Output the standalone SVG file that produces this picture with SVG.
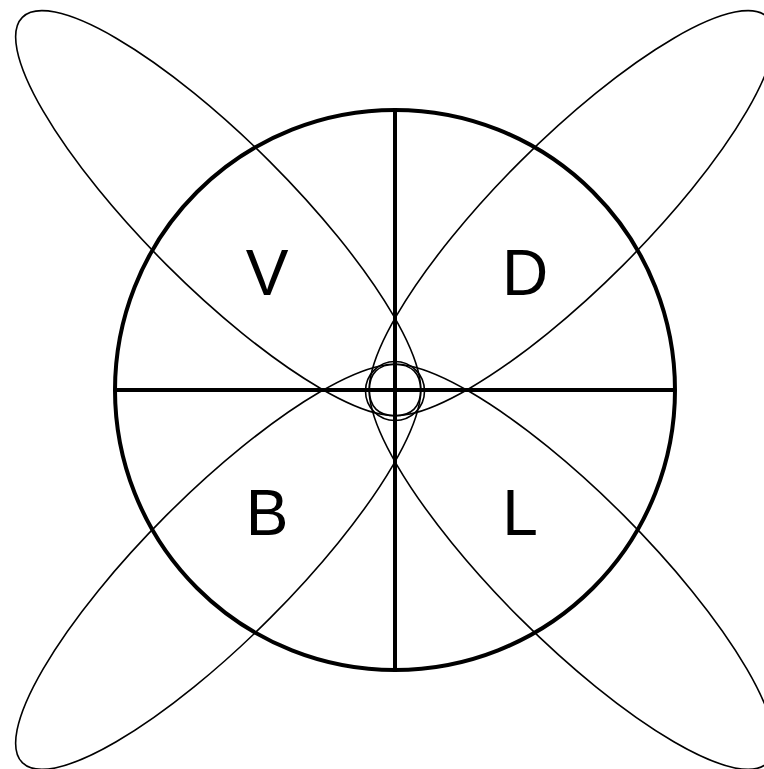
<svg xmlns="http://www.w3.org/2000/svg" width="764" height="769" viewBox="0 0 764 769">
<style>
.ell{fill:none;stroke:#000;stroke-width:1.6}
.thick{fill:none;stroke:#000;stroke-width:4}
.lbl{font-family:"Liberation Sans",Arial,sans-serif;font-size:64px;fill:#000;text-anchor:middle}
</style>
<rect width="764" height="769" fill="#fff"/>
<g id="lobes">
<ellipse id="lobe-tl" class="ell" cx="0" cy="0" rx="277" ry="73" transform="translate(218.2,213.2) rotate(45)"/>
<ellipse id="lobe-br" class="ell" cx="0" cy="0" rx="277" ry="73" transform="translate(571.8,566.8) rotate(45)"/>
<ellipse id="lobe-tr" class="ell" cx="0" cy="0" rx="277" ry="73" transform="translate(571.8,213.2) rotate(-45)"/>
<ellipse id="lobe-bl" class="ell" cx="0" cy="0" rx="277" ry="73" transform="translate(218.2,566.8) rotate(-45)"/>
</g>
<g id="outer-circle">
<circle class="thick" cx="395" cy="390" r="280"/>
</g>
<g id="axes">
<line class="thick" x1="395" y1="110" x2="395" y2="670"/>
<line class="thick" x1="115" y1="390" x2="675" y2="390"/>
</g>
<g id="center">
<circle class="ell" cx="395" cy="391" r="29.5"/>
</g>
<g id="labels">
<text class="lbl" x="267" y="295">V</text>
<text class="lbl" x="525" y="295">D</text>
<text class="lbl" x="267" y="535">B</text>
<text class="lbl" x="520" y="535">L</text>
</g>
</svg>
